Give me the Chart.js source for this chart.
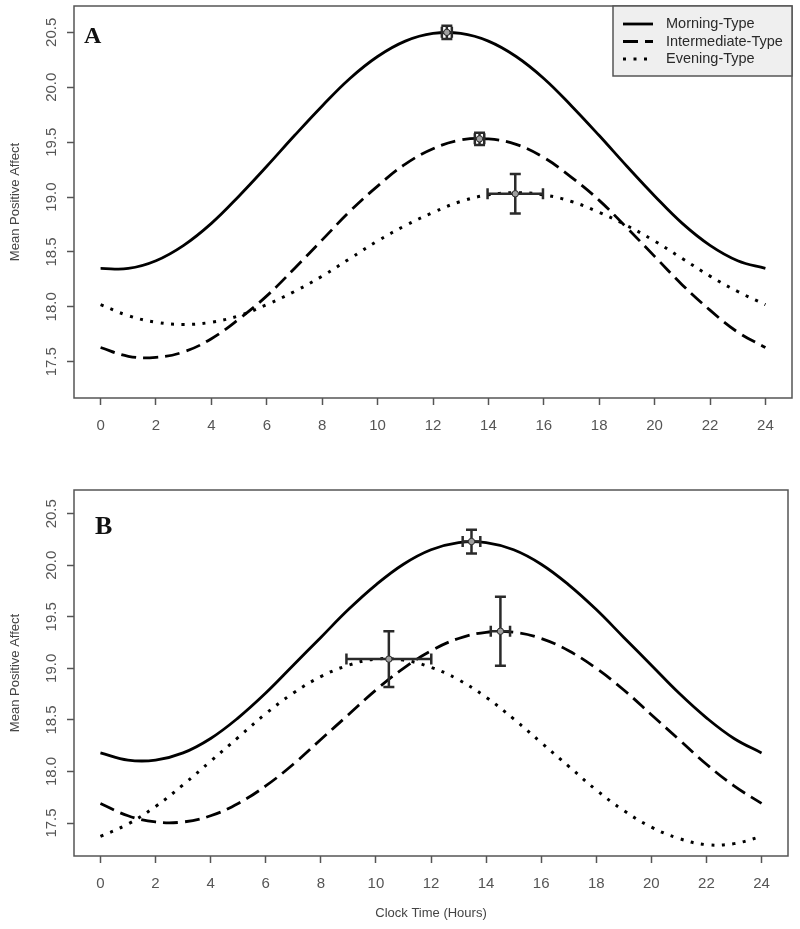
<!DOCTYPE html>
<html>
<head>
<meta charset="utf-8">
<script src="https://cdn.jsdelivr.net/npm/chart.js@4.4.0/dist/chart.umd.min.js"></script>
<style>
body{margin:0;background:#fff;}
#wrap{width:800px;height:929px;}
canvas{display:block;}
</style>
</head>
<body>
<div id="wrap">
<canvas id="panelA" width="800" height="440"></canvas>
<canvas id="panelB" width="800" height="489"></canvas>
</div>
<script>
// hours of the day, tick values
const hours = [0,1,2,3,4,5,6,7,8,9,10,11,12,13,14,15,16,17,18,19,20,21,22,23,24];
const xTicks = [0,2,4,6,8,10,12,14,16,18,20,22,24];
const yTicks = [17.5,18.0,18.5,19.0,19.5,20.0,20.5];
const seriesNames = ['Morning-Type','Intermediate-Type','Evening-Type'];

// panel A curves
const morningA = [18.35,18.35,18.42,18.56,18.76,19.01,19.28,19.56,19.83,20.08,20.28,20.42,20.49,20.49,20.42,20.28,20.08,19.83,19.56,19.28,19.01,18.76,18.56,18.42,18.35];
const intermedA = [17.63,17.55,17.54,17.59,17.71,17.89,18.10,18.35,18.61,18.87,19.10,19.30,19.44,19.52,19.53,19.48,19.36,19.18,18.97,18.72,18.46,18.20,17.97,17.77,17.63];
const eveningA = [18.02,17.92,17.86,17.84,17.86,17.92,18.02,18.14,18.28,18.44,18.60,18.74,18.86,18.96,19.02,19.04,19.02,18.96,18.86,18.74,18.60,18.44,18.28,18.14,18.02];

// panel B curves
const morningB = [18.18,18.11,18.11,18.18,18.32,18.52,18.76,19.03,19.30,19.57,19.81,20.01,20.15,20.22,20.22,20.15,20.01,19.81,19.57,19.30,19.03,18.76,18.52,18.32,18.18];
const intermedB = [17.69,17.57,17.51,17.51,17.57,17.69,17.86,18.07,18.31,18.55,18.79,19.00,19.17,19.29,19.35,19.35,19.29,19.17,19.00,18.79,18.55,18.31,18.07,17.86,17.69];
const eveningB = [17.37,17.49,17.66,17.87,18.10,18.33,18.56,18.76,18.92,19.03,19.09,19.08,19.01,18.89,18.72,18.51,18.28,18.05,17.82,17.62,17.46,17.35,17.29,17.30,17.37];

// peaks (acrophase) with error bars: morning, intermediate, evening
const peakTimeA = [12.5, 13.68, 14.97];
const peakValA = [20.50, 19.53, 19.03];
const timeErrA = [0.18, 0.17, 1.0];
const valErrA = [0.06, 0.055, 0.18];

const peakTimeB = [13.47, 14.52, 10.47];
const peakValB = [20.23, 19.36, 19.09];
const timeErrB = [0.32, 0.35, 1.54];
const valErrB = [0.115, 0.335, 0.27];

const sansFont = '"Liberation Sans", Arial, sans-serif';
const lineDash = [[], [15, 7], [3, 7.5]];
const lineWidth = [2.8, 2.8, 3];

const boxPlugin = {
  id: 'box',
  afterDraw(chart){
    const a = chart.chartArea, c = chart.ctx;
    c.save();
    c.strokeStyle = '#555';
    c.lineWidth = 1.5;
    c.strokeRect(a.left, a.top, a.right - a.left, a.bottom - a.top);
    c.restore();
  }
};

const letterPlugin = {
  id: 'letter',
  afterDraw(chart, args, o){
    const a = chart.chartArea, c = chart.ctx;
    c.save();
    c.font = 'bold ' + o.size + 'px "Liberation Serif", "Times New Roman", serif';
    c.fillStyle = '#111';
    c.textBaseline = 'alphabetic';
    c.fillText(o.text, a.left + o.dx, a.top + o.dy);
    c.restore();
  }
};

const errorPlugin = {
  id: 'errbars',
  afterDatasetsDraw(chart, args, o){
    const c = chart.ctx, xs = chart.scales.x, ys = chart.scales.y;
    const cap = 5.5;
    c.save();
    c.strokeStyle = '#2a2a2a';
    c.lineWidth = 2.5;
    o.time.forEach((t, i) => {
      const px = xs.getPixelForValue(t), py = ys.getPixelForValue(o.val[i]);
      const x0 = xs.getPixelForValue(t - o.terr[i]), x1 = xs.getPixelForValue(t + o.terr[i]);
      const y0 = ys.getPixelForValue(o.val[i] + o.verr[i]), y1 = ys.getPixelForValue(o.val[i] - o.verr[i]);
      c.beginPath();
      c.moveTo(x0, py); c.lineTo(x1, py);
      c.moveTo(x0, py - cap); c.lineTo(x0, py + cap);
      c.moveTo(x1, py - cap); c.lineTo(x1, py + cap);
      c.moveTo(px, y0); c.lineTo(px, y1);
      c.moveTo(px - cap, y0); c.lineTo(px + cap, y0);
      c.moveTo(px - cap, y1); c.lineTo(px + cap, y1);
      c.stroke();
      c.beginPath();
      c.arc(px, py, 3.2, 0, Math.PI * 2);
      c.fillStyle = '#a0a0a0';
      c.fill();
      c.lineWidth = 1;
      c.stroke();
      c.lineWidth = 2.5;
    });
    c.restore();
  }
};

const boxLegendPlugin = {
  id: 'boxLegend',
  afterDraw(chart, args, o){
    if (!o.show) return;
    const a = chart.chartArea, c = chart.ctx;
    const w = 179, h = 70;
    const left = a.right - w, top = a.top;
    c.save();
    c.fillStyle = '#efefef';
    c.fillRect(left, top, w, h);
    c.strokeStyle = '#555';
    c.lineWidth = 1.5;
    c.strokeRect(left, top, w, h);
    chart.data.datasets.forEach((ds, i) => {
      const y = top + 18 + i * 17.5;
      c.beginPath();
      c.setLineDash(ds.borderDash);
      c.lineWidth = ds.borderWidth;
      c.strokeStyle = '#000';
      c.moveTo(left + 10, y);
      c.lineTo(left + 40, y);
      c.stroke();
      c.setLineDash([]);
      c.fillStyle = '#2a2a2a';
      c.font = '14.5px ' + sansFont;
      c.textBaseline = 'middle';
      c.fillText(ds.label, left + 53, y);
    });
    c.restore();
  }
};

function makePanel(id, curves, peaks, cfg){
  return new Chart(document.getElementById(id), {
    type: 'line',
    data: {
      datasets: curves.map((vals, i) => ({
        label: seriesNames[i],
        data: hours.map((h, j) => ({x: h, y: vals[j]})),
        borderColor: '#000',
        borderWidth: lineWidth[i],
        borderDash: lineDash[i],
        pointRadius: 0,
        tension: 0.4,
        fill: false
      }))
    },
    options: {
      responsive: false,
      animation: false,
      layout: {padding: {top: cfg.top, right: cfg.right, left: 0, bottom: 0}},
      plugins: {
        legend: {display: false},
        tooltip: {enabled: false},
        letter: {text: cfg.letter, size: cfg.letterSize, dx: cfg.letterDx, dy: cfg.letterDy},
        errbars: peaks,
        boxLegend: {show: cfg.legend}
      },
      scales: {
        x: {
          type: 'linear',
          min: -0.96, max: 24.96,
          afterBuildTicks: s => { s.ticks = xTicks.map(v => ({value: v})); },
          afterFit: s => { s.height = cfg.xHeight; s.paddingLeft = 0; s.paddingRight = 0; },
          grid: {drawOnChartArea: false, drawTicks: true, tickLength: 7, tickColor: '#555', tickWidth: 1.5},
          border: {display: false},
          ticks: {font: {family: sansFont, size: 15}, color: '#555', padding: 12, maxRotation: 0, autoSkip: false},
          title: {display: cfg.xTitle, text: 'Clock Time (Hours)', color: '#444', font: {family: sansFont, size: 13}, padding: {top: 0, bottom: 8}}
        },
        y: {
          min: cfg.ymin, max: cfg.ymax,
          afterBuildTicks: s => { s.ticks = yTicks.map(v => ({value: v})); },
          afterFit: s => { s.width = 74; s.paddingTop = 0; s.paddingBottom = 0; },
          grid: {drawOnChartArea: false, drawTicks: true, tickLength: 7, tickColor: '#555', tickWidth: 1.5},
          border: {display: false},
          ticks: {font: {family: sansFont, size: 15}, color: '#555', padding: 1, minRotation: 90, maxRotation: 90, crossAlign: 'center', callback: v => v.toFixed(1)},
          title: {display: true, text: 'Mean Positive Affect', color: '#444', font: {family: sansFont, size: 13}, padding: {top: 8, bottom: 0}}
        }
      }
    },
    plugins: [boxPlugin, errorPlugin, letterPlugin, boxLegendPlugin]
  });
}

makePanel('panelA', [morningA, intermedA, eveningA],
  {time: peakTimeA, val: peakValA, terr: timeErrA, verr: valErrA},
  {top: 6, right: 8, xHeight: 42, xTitle: false, legend: true, ymin: 17.17, ymax: 20.74,
   letter: 'A', letterSize: 24, letterDx: 10, letterDy: 37});

makePanel('panelB', [morningB, intermedB, eveningB],
  {time: peakTimeB, val: peakValB, terr: timeErrB, verr: valErrB},
  {top: 50, right: 12, xHeight: 73, xTitle: true, legend: false, ymin: 17.18, ymax: 20.73,
   letter: 'B', letterSize: 26, letterDx: 21, letterDy: 44});
</script>
</body>
</html>
